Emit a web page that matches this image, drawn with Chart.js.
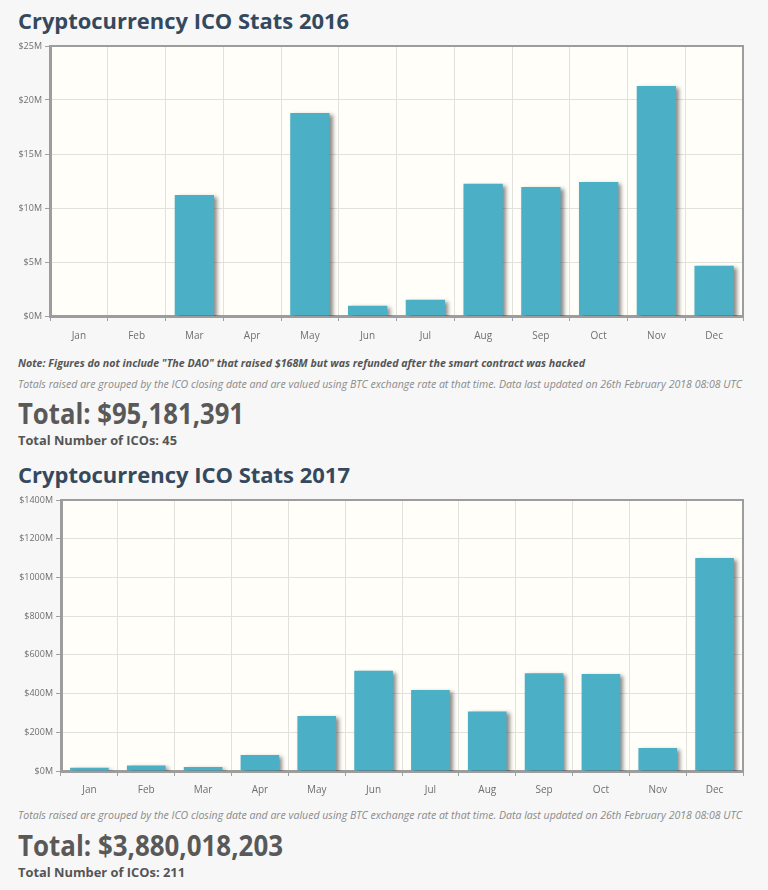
<!DOCTYPE html>
<html>
<head>
<meta charset="utf-8">
<script src="https://cdn.jsdelivr.net/npm/chart.js@4"></script>
<style>
  body { margin: 0; background: #f7f7f7; font-family: "Open Sans", sans-serif; }
  #page { position: relative; width: 768px; height: 890px; overflow: hidden; }
  .t { position: absolute; left: 18px; white-space: nowrap; transform-origin: 0 50%; line-height: 1; }
  .title { font-size: 22px; font-weight: 700; color: #34495e; }
  .note { font-size: 11px; font-weight: 700; font-style: italic; color: #555; }
  .info { font-size: 11px; font-weight: 400; font-style: italic; color: #8a8a8a; }
  .total { font-size: 29px; font-weight: 700; color: #595959; }
  .count { font-size: 12px; font-weight: 700; color: #555; }
  canvas { position: absolute; left: 0; }
</style>
</head>
<body>
<div id="page">
  <div class="t title" data-w="331" style="top:9px">Cryptocurrency ICO Stats 2016</div>
  <canvas id="chart2016" width="768" height="310" style="top:36px"></canvas>
  <div class="t note" data-w="567" style="top:357px">Note: Figures do not include "The DAO" that raised $168M but was refunded after the smart contract was hacked</div>
  <div class="t info" data-w="724" style="top:378px">Totals raised are grouped by the ICO closing date and are valued using BTC exchange rate at that time. Data last updated on 26th February 2018 08:08 UTC</div>
  <div class="t total" data-w="226" style="top:398px">Total: $95,181,391</div>
  <div class="t count" data-w="159" style="top:435px">Total Number of ICOs: 45</div>

  <div class="t title" data-w="332" style="top:463px">Cryptocurrency ICO Stats 2017</div>
  <canvas id="chart2017" width="768" height="310" style="top:490px"></canvas>
  <div class="t info" data-w="724" style="top:809px">Totals raised are grouped by the ICO closing date and are valued using BTC exchange rate at that time. Data last updated on 26th February 2018 08:08 UTC</div>
  <div class="t total" data-w="265" style="top:830px">Total: $3,880,018,203</div>
  <div class="t count" data-w="167" style="top:867px">Total Number of ICOs: 211</div>
</div>
<script>
const months = ['Jan', 'Feb', 'Mar', 'Apr', 'May', 'Jun', 'Jul', 'Aug', 'Sep', 'Oct', 'Nov', 'Dec'];
// raised per month, in millions of USD
const raised2016 = [0, 0, 11.2, 0, 18.8, 0.96, 1.5, 12.25, 11.95, 12.4, 21.3, 4.65];
const raised2017 = [17, 28, 21, 83, 284, 518, 418, 308, 505, 501, 119, 1101];
const yTicks2016 = { max: 25, step: 5 };
const yTicks2017 = { max: 1400, step: 200 };

// squeeze text lines to the width they take in the original
document.querySelectorAll('.t').forEach(function(el) {
    const w = el.getBoundingClientRect().width;
    el.style.transform = 'scaleX(' + (parseFloat(el.dataset.w) / w) + ')';
});

const plotFrame = {
    id: 'plotFrame',
    beforeDraw(chart) {
        const a = chart.chartArea, ctx = chart.ctx;
        ctx.save();
        ctx.fillStyle = '#fffef8';
        ctx.fillRect(a.left, a.top, a.right - a.left, a.bottom - a.top);
        ctx.restore();
    },
    afterDraw(chart) {
        const a = chart.chartArea, ctx = chart.ctx;
        ctx.save();
        ctx.strokeStyle = '#9d9d9d';
        ctx.lineWidth = 2;
        ctx.beginPath();
        ctx.moveTo(a.left, a.top);
        ctx.lineTo(a.right, a.top);
        ctx.lineTo(a.right, a.bottom);
        ctx.stroke();
        ctx.restore();
    }
};

const barShadow = {
    id: 'barShadow',
    beforeDatasetsDraw(chart) {
        const ctx = chart.ctx;
        ctx.save();
        ctx.shadowColor = 'rgba(0, 0, 0, 0.45)';
        ctx.shadowBlur = 4;
        ctx.shadowOffsetX = 3;
        ctx.shadowOffsetY = 2;
    },
    afterDatasetsDraw(chart) {
        chart.ctx.restore();
    }
};

function makeChart(id, values, yt, yWidth, xHeight, xPad) {
    return new Chart(document.getElementById(id), {
        type: 'bar',
        data: {
            labels: months,
            datasets: [{
                data: values,
                backgroundColor: '#4bafc5',
                borderWidth: 0,
                categoryPercentage: 0.68,
                barPercentage: 1
            }]
        },
        options: {
            responsive: false,
            animation: false,
            layout: { padding: { top: 10, right: 25, left: 0, bottom: 0 } },
            plugins: { legend: { display: false }, tooltip: { enabled: false } },
            scales: {
                x: {
                    grid: { color: '#e2e2dc', tickColor: '#a0a0a0', tickLength: 5, offset: true },
                    border: { color: '#9d9d9d', width: 3 },
                    ticks: { color: '#6f6f6f', font: { family: 'Open Sans', size: 10 }, padding: xPad },
                    afterFit(scale) { scale.height = xHeight; }
                },
                y: {
                    min: 0,
                    max: yt.max,
                    grid: { color: '#e2e2dc', tickColor: '#a0a0a0', tickLength: 5 },
                    border: { color: '#9d9d9d', width: 3 },
                    ticks: {
                        stepSize: yt.step,
                        color: '#6f6f6f',
                        padding: 3,
                        font: { family: 'Open Sans', size: 9 },
                        callback: function(v) { return '$' + v + 'M'; }
                    },
                    afterFit(scale) { scale.width = yWidth; }
                }
            }
        },
        plugins: [plotFrame, barShadow]
    });
}

makeChart('chart2016', raised2016, yTicks2016, 50, 30, 9);
makeChart('chart2017', raised2017, yTicks2017, 61, 29, 8);
</script>
</body>
</html>
